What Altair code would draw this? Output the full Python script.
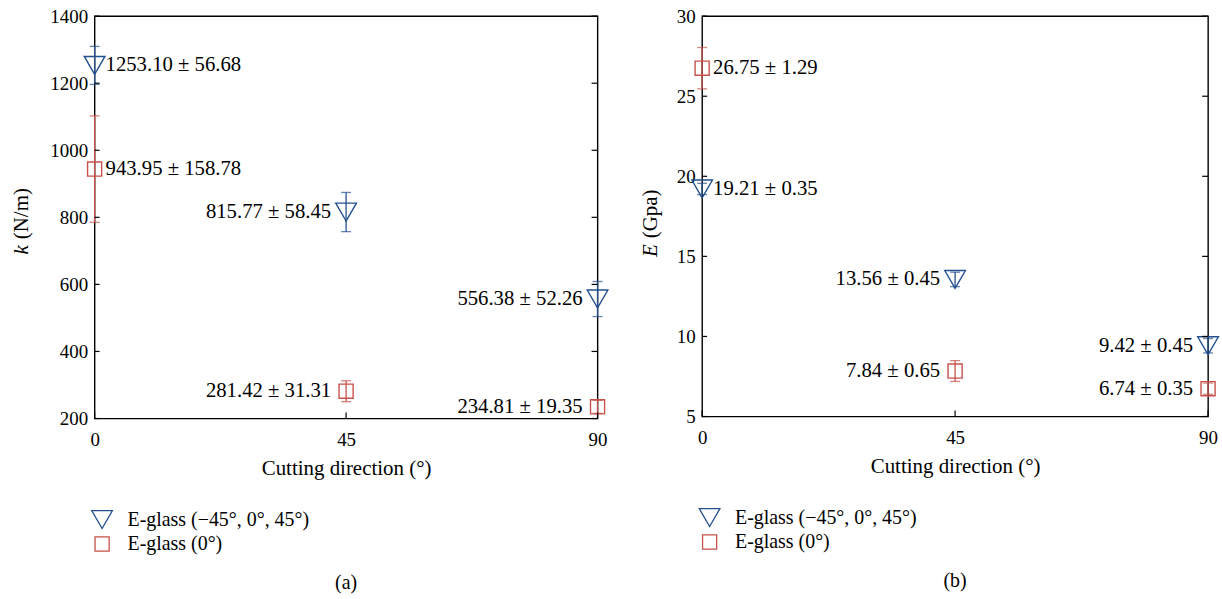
import altair as alt
import pandas as pd

# ---------------- data ----------------
directions = [0, 45, 90]
series_names = ["E-glass (\u221245\u00b0, 0\u00b0, 45\u00b0)", "E-glass (0\u00b0)"]

k_multi = [1253.10, 815.77, 556.38]
k_multi_err = [56.68, 58.45, 52.26]
k_single = [943.95, 281.42, 234.81]
k_single_err = [158.78, 31.31, 19.35]

E_multi = [19.21, 13.56, 9.42]
E_multi_err = [0.35, 0.45, 0.45]
E_single = [26.75, 7.84, 6.74]
E_single_err = [1.29, 0.65, 0.35]

x_ticks = [0, 45, 90]
k_ticks = [200, 400, 600, 800, 1000, 1200, 1400]
E_ticks = [5, 10, 15, 20, 25, 30]

COLORS = ["#23508e", "#c8514b"]
SHAPES = ["triangle-down", "square"]
SIZES = [430, 200]
FONT = "Liberation Serif"


def build_df(multi, multi_err, single, single_err):
    rows = []
    for name, vals, errs in [(series_names[0], multi, multi_err),
                             (series_names[1], single, single_err)]:
        for d, v, e in zip(directions, vals, errs):
            rows.append({
                "dir": d, "val": v, "err": e, "series": name,
                "lo": v - e, "hi": v + e,
                "label": f"{v:.2f} \u00b1 {e:.2f}",
            })
    return pd.DataFrame(rows)


def make_panel(df, yticks, ydomain, ytitle_var, ytitle_unit, caption, W, H, title_x):
    xs = alt.Scale(domain=[0, 90], nice=False, zero=False)
    ys = alt.Scale(domain=ydomain, nice=False, zero=False)

    base = alt.Chart(df)

    xaxis = alt.Axis(values=x_ticks, grid=False, tickSize=0, domain=False, format="d",
                     labelFlush=False,
                     labelFont=FONT, labelFontSize=19, labelColor="black",
                     labelPadding=12, title="Cutting direction (\u00b0)",
                     titleFont=FONT, titleFontSize=21, titleFontWeight="normal",
                     titleColor="black", titlePadding=8)
    yaxis = alt.Axis(values=yticks, grid=False, tickSize=0, domain=False, format="d",
                     labelFlush=False,
                     labelFont=FONT, labelFontSize=19, labelColor="black",
                     labelPadding=7, title=None)

    legend = alt.Legend(title=None, orient="none", legendX=-4, legendY=H + 90,
                        labelFont=FONT, labelFontSize=20, labelColor="black",
                        symbolStrokeWidth=1.3, symbolFillColor="transparent",
                        rowPadding=2, labelOffset=14, labelLimit=400)
    points = base.mark_point(filled=False, strokeWidth=1.4, opacity=1).encode(
        x=alt.X("dir:Q", scale=xs, axis=xaxis),
        y=alt.Y("val:Q", scale=ys, axis=yaxis),
        color=alt.Color("series:N", scale=alt.Scale(domain=series_names, range=COLORS), legend=legend),
        shape=alt.Shape("series:N", scale=alt.Scale(domain=series_names, range=SHAPES), legend=legend),
        size=alt.Size("series:N", scale=alt.Scale(domain=series_names, range=SIZES), legend=legend),
    )

    err_layers = []
    for name, c in zip(series_names, COLORS):
        sub = base.transform_filter(alt.datum.series == name)
        err_layers.append(sub.mark_rule(strokeWidth=1.3, color=c).encode(
            x="dir:Q", y="lo:Q", y2="hi:Q"))
        err_layers.append(sub.mark_tick(orient="horizontal", size=10, thickness=1.3, color=c).encode(
            x="dir:Q", y="lo:Q"))
        err_layers.append(sub.mark_tick(orient="horizontal", size=10, thickness=1.3, color=c).encode(
            x="dir:Q", y="hi:Q"))

    text_left = base.transform_filter(alt.datum.dir == 0).mark_text(
        align="left", baseline="middle", dx=11, font=FONT, fontSize=20.8, color="black"
    ).encode(x="dir:Q", y="val:Q", text="label:N")
    text_right = base.transform_filter(alt.datum.dir > 0).mark_text(
        align="right", baseline="middle", dx=-15, font=FONT, fontSize=20.8, color="black"
    ).encode(x="dir:Q", y="val:Q", text="label:N")

    ytick_df = pd.DataFrame({"t": yticks})
    xtick_df = pd.DataFrame({"t": x_ticks})
    left_ticks = alt.Chart(ytick_df).mark_rule(color="black", strokeWidth=1.2).encode(
        y="t:Q", x=alt.value(0), x2=alt.value(5))
    right_ticks = alt.Chart(ytick_df).mark_rule(color="black", strokeWidth=1.2).encode(
        y="t:Q", x=alt.value(W), x2=alt.value(W - 6))
    bottom_ticks = alt.Chart(xtick_df).mark_rule(color="black", strokeWidth=1.2).encode(
        x="t:Q", y=alt.value(H), y2=alt.value(H - 6))

    title_df = pd.DataFrame({"a": [ytitle_var], "b": [ytitle_unit]})
    tvar = alt.Chart(title_df).mark_text(
        angle=270, align="right", baseline="middle", font=FONT, fontSize=21,
        fontStyle="italic", color="black"
    ).encode(text="a:N", x=alt.value(title_x), y=alt.value(H / 2 + 28))
    tunit = alt.Chart(title_df).mark_text(
        angle=270, align="left", baseline="middle", font=FONT, fontSize=21,
        color="black"
    ).encode(text="b:N", x=alt.value(title_x), y=alt.value(H / 2 + 22))

    return alt.layer(
        points, *err_layers, text_left, text_right,
        left_ticks, right_ticks, bottom_ticks, tvar, tunit,
    ).properties(
        width=W, height=H,
        title=alt.TitleParams(caption, orient="bottom", font=FONT, fontSize=20,
                              fontWeight="normal", color="black", offset=19),
    )


df_k = build_df(k_multi, k_multi_err, k_single, k_single_err)
df_E = build_df(E_multi, E_multi_err, E_single, E_single_err)

panel_a = make_panel(df_k, k_ticks, [200, 1400], "k", "(N/m)", "(a)", 505, 404, -73)
panel_b = make_panel(df_E, E_ticks, [5, 30], "E", "(Gpa)", "(b)", 508, 402, -51)

chart = alt.hconcat(panel_a, panel_b, spacing=28).resolve_scale(
    color="independent", shape="independent", size="independent"
).properties(
    padding={"left": 10, "top": 5, "right": 0, "bottom": 0},
    background="white",
).configure_view(
    stroke="black", strokeWidth=1.4
)

chart.save("out.html", embed_options={"renderer": "svg", "actions": False})
